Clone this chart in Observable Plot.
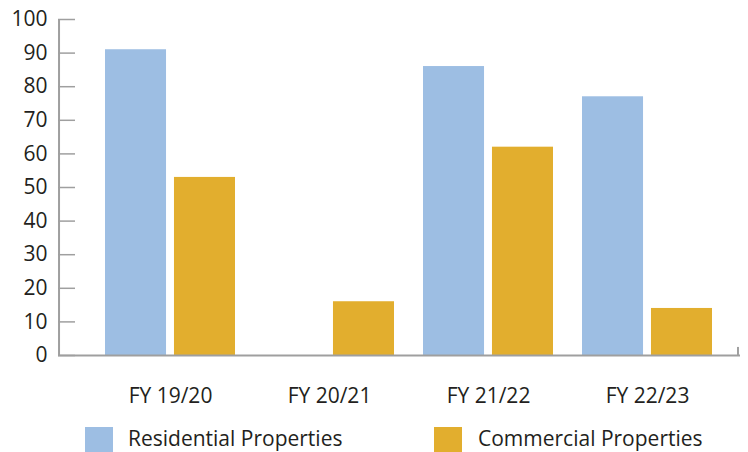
<!DOCTYPE html>
<html>
<head>
<meta charset="utf-8">
<script src="https://cdn.jsdelivr.net/npm/d3@7"></script>
<script src="https://cdn.jsdelivr.net/npm/@observablehq/plot@0.6"></script>
<style>
  html, body { margin: 0; padding: 0; background: #fff; overflow: hidden; }
  #wrap { width: 748px; height: 452px; position: relative; font-family: "Open Sans", sans-serif; color: #231f20; }
  #legend { position: relative; height: 34px; width: 748px; }
  .sw { position: absolute; width: 28px; height: 25px; top: 9px; }
  .lt { position: absolute; top: 8px; line-height: 24px; height: 24px; font-size: 21px; white-space: nowrap; }
</style>
</head>
<body>
<div id="wrap"></div>
<script>
const years = ["FY 19/20", "FY 20/21", "FY 21/22", "FY 22/23"];
const residential = [91, null, 86, 77];
const commercial = [53, 16, 62, 14];
const yTicks = [0, 10, 20, 30, 40, 50, 60, 70, 80, 90, 100];
const seriesNames = ["Residential Properties", "Commercial Properties"];
const seriesColors = ["#9dbee3", "#e2ae2e"];

const rows = years.map((year, i) => ({year, res: residential[i], com: commercial[i]}));

const W = 748, H = 418;
const mL = 58, mR = 8, mT = 19, mB = 63;
const xRange = [104, 714];
const padIn = 0.18;
const step = (xRange[1] - xRange[0]) / (years.length - padIn);
const bw = step * (1 - padIn);
const barGap = 7;
const barW = (bw - barGap) / 2;
const firstCenter = xRange[0] + bw / 2;
const lastCenter = xRange[1] - bw / 2;
const axisGray = "#9f9f9f";

const chart = Plot.plot({
  width: W,
  height: H,
  marginLeft: mL,
  marginRight: mR,
  marginTop: mT,
  marginBottom: mB,
  style: {fontFamily: "Open Sans, sans-serif", fontSize: "21px", color: "#231f20", background: "#fff", overflow: "visible"},
  x: {domain: years, range: xRange, paddingInner: padIn, paddingOuter: 0, tickSize: 0, tickPadding: 33, label: null},
  y: {domain: [0, 100], ticks: yTicks, tickSize: 0, tickPadding: 11, label: null},
  marks: [
    Plot.barY(rows.filter(d => d.res != null), {x: "year", y: "res", fill: seriesColors[0], insetRight: barW + barGap}),
    Plot.barY(rows, {x: "year", y: "com", fill: seriesColors[1], insetLeft: barW + barGap}),
    Plot.ruleY(yTicks, {y: d => d, stroke: axisGray, strokeWidth: 1.5, insetRight: (W - mR - mL) - 17}),
    Plot.ruleY([0], {stroke: axisGray, strokeWidth: 2}),
    Plot.ruleX([years[0]], {x: d => d, y1: 0, y2: 100, stroke: axisGray, strokeWidth: 2, dx: mL - firstCenter}),
    Plot.ruleX([years[years.length - 1]], {x: d => d, y1: 0, y2: 2.4, stroke: axisGray, strokeWidth: 2, dx: (W - mR) - lastCenter - 1})
  ]
});

const wrap = document.getElementById("wrap");
wrap.appendChild(chart);

const legend = document.createElement("div");
legend.id = "legend";
const legendPos = [[85, 128], [434, 478]];
seriesNames.forEach((name, i) => {
  const sw = document.createElement("div");
  sw.className = "sw";
  sw.style.left = legendPos[i][0] + "px";
  sw.style.background = seriesColors[i];
  const t = document.createElement("div");
  t.className = "lt";
  t.style.left = legendPos[i][1] + "px";
  t.textContent = name;
  legend.appendChild(sw);
  legend.appendChild(t);
});
wrap.appendChild(legend);
</script>
</body>
</html>
